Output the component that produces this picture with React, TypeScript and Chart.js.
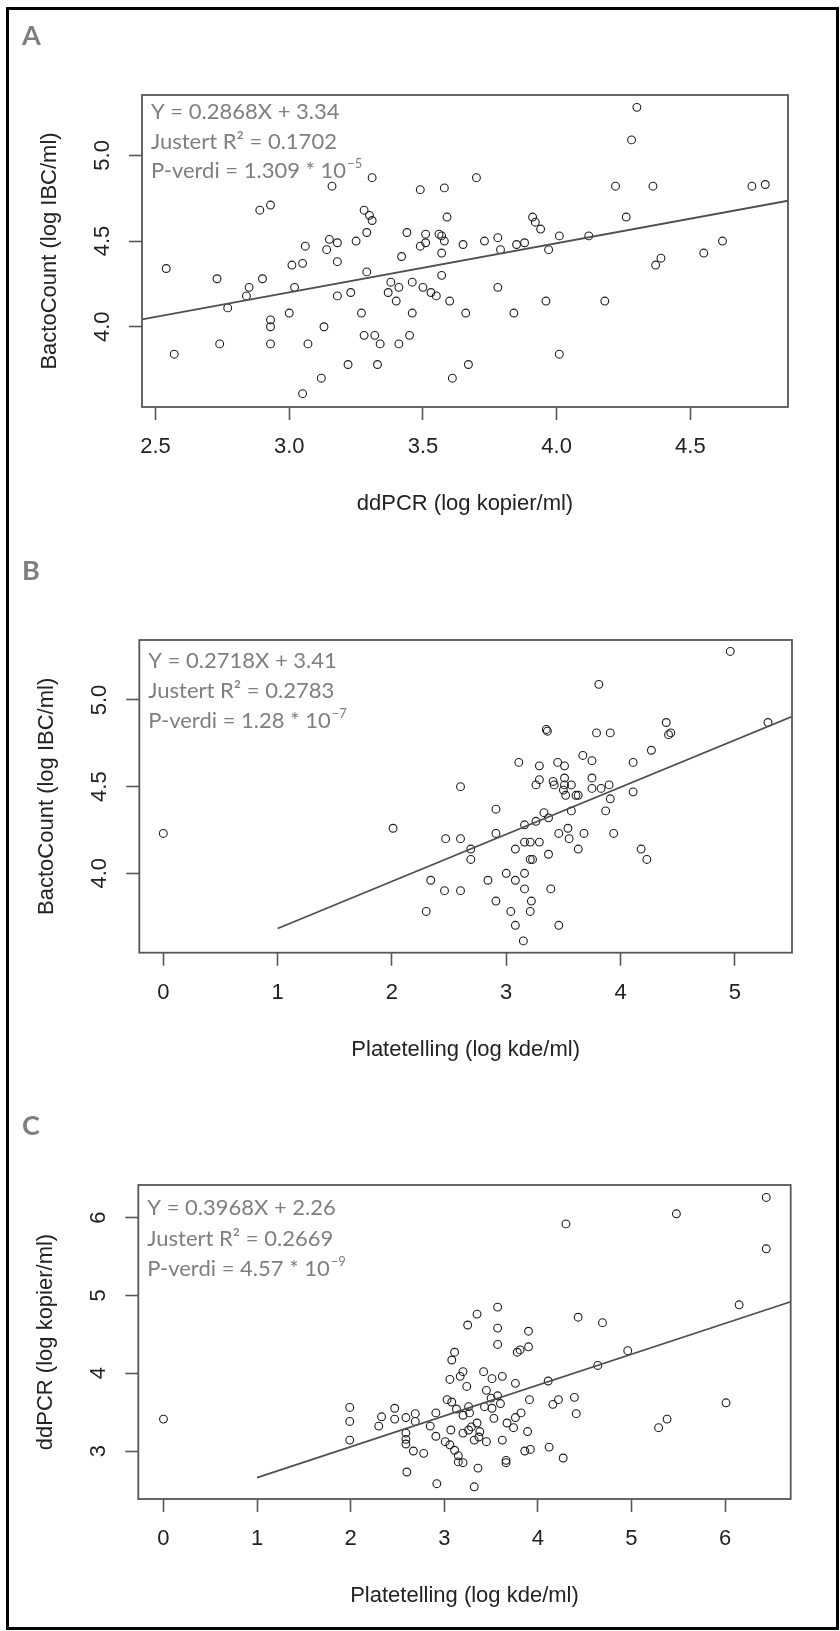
import React, { useEffect, useRef } from "react";
import { Chart, registerables } from "chart.js";

Chart.register(...registerables);

// ---------------- Panel A: ddPCR vs BactoCount ----------------
const ddpcrA = [
  2.54, 2.57, 2.73, 2.74, 2.77, 2.84, 2.85, 2.89, 2.93, 2.90,
  2.93, 2.93, 2.93, 3.00, 3.01, 3.05, 3.06, 3.02, 3.05, 3.07,
  3.12, 3.13, 3.14, 3.15, 3.18, 3.16, 3.18, 3.18, 3.22, 3.23,
  3.25, 3.27, 3.28, 3.30, 3.31, 3.29, 3.29, 3.31, 3.28, 3.32,
  3.34, 3.33, 3.37, 3.38, 3.40, 3.41, 3.41, 3.42, 3.44, 3.45,
  3.46, 3.46, 3.49, 3.49, 3.50, 3.51, 3.51, 3.53, 3.55, 3.56,
  3.57, 3.58, 3.59, 3.57, 3.58, 3.57, 3.60, 3.61, 3.65, 3.66,
  3.67, 3.70, 3.73, 3.78, 3.79, 3.78, 3.84, 3.85, 3.88, 3.91,
  3.92, 3.94, 3.96, 3.97, 4.01, 4.01, 4.12, 4.18, 4.22, 4.26,
  4.28, 4.30, 4.36, 4.37, 4.39, 4.55, 4.62, 4.73, 4.78,
];
const bactoA = [
  4.34, 3.84, 4.28, 3.90, 4.11, 4.18, 4.23, 4.68, 4.71, 4.28,
  4.04, 4.00, 3.90, 4.08, 4.36, 4.37, 4.47, 4.23, 3.61, 3.90,
  3.70, 4.00, 4.45, 4.51, 4.49, 4.82, 4.38, 4.18, 3.78, 4.20,
  4.50, 4.08, 4.68, 4.65, 4.62, 4.55, 4.32, 4.87, 3.95, 3.95,
  3.90, 3.78, 4.20, 4.26, 4.15, 4.23, 3.90, 4.41, 4.55, 3.95,
  4.26, 4.08, 4.80, 4.47, 4.23, 4.54, 4.49, 4.20, 4.18, 4.54,
  4.53, 4.81, 4.64, 4.43, 4.50, 4.30, 4.15, 3.70, 4.48, 4.08,
  3.78, 4.87, 4.50, 4.52, 4.45, 4.23, 4.08, 4.48, 4.49, 4.64,
  4.61, 4.57, 4.15, 4.45, 4.53, 3.84, 4.53, 4.15, 4.82, 4.64,
  5.09, 5.28, 4.82, 4.36, 4.40, 4.43, 4.50, 4.82, 4.83,
];

// ---------------- Panel B: Platetelling vs BactoCount ----------------
const plateB = [
  0.00, 2.01, 2.60, 2.47, 2.60, 2.69, 2.69, 2.34, 2.46, 2.60,
  2.84, 2.30, 4.96, 3.81, 3.35, 3.36, 3.79, 3.91, 4.40, 4.42,
  4.44, 5.29, 4.27, 4.11, 3.11, 3.29, 3.45, 3.51, 3.67, 3.75,
  3.29, 3.26, 3.41, 3.42, 3.51, 3.51, 3.57, 3.52, 3.50, 3.61,
  3.63, 3.75, 3.75, 3.83, 3.90, 3.91, 4.11, 3.87, 3.57, 2.91,
  3.33, 3.37, 3.16, 3.26, 2.91, 3.46, 3.54, 3.55, 3.68, 3.94,
  3.08, 3.16, 3.21, 3.29, 3.63, 3.37, 3.21, 3.23, 4.18, 4.23,
  3.00, 3.08, 3.16, 3.16, 3.39, 2.91, 3.22, 3.04, 3.21, 3.08,
  3.46, 3.15,
];
const bactoB = [
  4.23, 4.26, 4.50, 4.20, 4.20, 4.14, 4.08, 3.96, 3.90, 3.90,
  3.96, 3.78, 5.28, 5.09, 4.83, 4.82, 4.81, 4.81, 4.87, 4.80,
  4.81, 4.87, 4.71, 4.64, 4.64, 4.62, 4.64, 4.62, 4.68, 4.65,
  4.54, 4.51, 4.53, 4.51, 4.55, 4.51, 4.51, 4.45, 4.48, 4.45,
  4.45, 4.55, 4.49, 4.49, 4.51, 4.43, 4.47, 4.36, 4.36, 4.37,
  4.35, 4.32, 4.28, 4.30, 4.23, 4.23, 4.26, 4.20, 4.23, 4.23,
  4.14, 4.18, 4.18, 4.18, 4.14, 4.11, 4.08, 4.08, 4.14, 4.08,
  4.00, 3.96, 4.00, 3.91, 3.91, 3.84, 3.84, 3.78, 3.78, 3.70,
  3.70, 3.61,
];

// ---------------- Panel C: Platetelling vs ddPCR ----------------
const plateC = [
  0.00, 1.99, 1.99, 1.99, 2.30, 2.33, 2.47, 2.47, 2.59, 2.59,
  2.59, 2.59, 2.67, 2.78, 2.69, 2.69, 2.85, 2.91, 2.91, 3.01,
  3.06, 3.07, 3.11, 3.15, 3.15, 3.20, 3.06, 3.08, 3.11, 3.17,
  3.20, 3.24, 3.25, 3.35, 3.03, 3.08, 3.13, 3.20, 3.26, 3.27,
  3.42, 3.45, 3.43, 3.20, 3.26, 3.29, 3.35, 3.38, 3.45, 3.36,
  2.60, 2.92, 3.32, 3.37, 3.62, 3.66, 3.66, 3.86, 3.92, 4.12,
  4.27, 3.32, 6.44, 5.48, 4.30, 6.44, 6.15, 3.57, 3.57, 3.57,
  3.90, 3.78, 3.81, 3.90, 4.43, 4.69, 4.96, 4.64, 4.11, 3.51,
  3.62, 3.76, 3.50, 3.57, 3.60, 3.51, 3.91, 4.16, 4.22, 4.39,
  4.41, 3.82, 3.76, 3.67, 3.74, 3.53, 3.89, 5.29, 5.38, 6.01,
];
const ddpcrC = [
  3.41, 3.56, 3.38, 3.14, 3.32, 3.44, 3.55, 3.41, 3.43, 3.23,
  3.15, 3.09, 3.00, 2.97, 3.48, 3.38, 3.32, 3.49, 3.19, 3.12,
  3.08, 3.27, 3.01, 2.94, 2.86, 2.85, 3.92, 4.17, 4.27, 3.96,
  4.02, 3.83, 4.62, 4.76, 3.66, 3.63, 3.54, 3.46, 3.57, 3.49,
  4.02, 3.78, 3.57, 3.23, 3.27, 3.31, 3.36, 3.25, 3.12, 2.78,
  2.73, 2.58, 2.54, 3.18, 3.14, 2.88, 2.85, 3.00, 3.02, 3.05,
  2.91, 3.14, 6.26, 6.05, 5.92, 5.60, 4.88, 4.85, 4.58, 4.37,
  4.54, 4.27, 4.30, 4.34, 4.72, 4.65, 4.29, 4.10, 3.90, 3.93,
  3.96, 3.87, 3.68, 3.71, 3.61, 3.55, 3.66, 3.60, 3.66, 3.69,
  3.48, 3.49, 3.43, 3.36, 3.30, 3.42, 3.25, 3.30, 3.41, 3.62,
];

// ---------------- Ticks ----------------
const xTicksA = [2.5, 3.0, 3.5, 4.0, 4.5];
const xTickLabelsA = ["2.5", "3.0", "3.5", "4.0", "4.5"];
const yTicksA = [4.0, 4.5, 5.0];
const yTickLabelsA = ["4.0", "4.5", "5.0"];

const xTicksB = [0, 1, 2, 3, 4, 5];
const xTickLabelsB = ["0", "1", "2", "3", "4", "5"];
const yTicksB = [4.0, 4.5, 5.0];
const yTickLabelsB = ["4.0", "4.5", "5.0"];

const xTicksC = [0, 1, 2, 3, 4, 5, 6];
const xTickLabelsC = ["0", "1", "2", "3", "4", "5", "6"];
const yTicksC = [3, 4, 5, 6];
const yTickLabelsC = ["3", "4", "5", "6"];

// ---------------- Regression fits (as printed) ----------------
const fitA = [0.2868, 3.34];
const fitB = [0.2718, 3.41];
const fitC = [0.3968, 2.26];

const statsA = ["Y = 0.2868X + 3.34", "Justert R\u00B2 = 0.1702", "P-verdi = 1.309 * 10"];
const expA = "\u22125";
const statsB = ["Y = 0.2718X + 3.41", "Justert R\u00B2 = 0.2783", "P-verdi = 1.28 * 10"];
const expB = "\u22127";
const statsC = ["Y = 0.3968X + 2.26", "Justert R\u00B2 = 0.2669", "P-verdi = 4.57 * 10"];
const expC = "\u22129";

// ---------------- Styling ----------------
const AXIS_FONT = "'Liberation Sans', Arial, sans-serif";
const STAT_FONT = "Lato, 'Noto Sans', sans-serif";
const TICK_COLOR = "#222";
const FRAME_COLOR = "#575757";
const POINT_COLOR = "#1e1e1e";
const STAT_COLOR = "#7f7f7f";
const W = 840;

type PanelCfg = {
  letter: string;
  letterY: number;
  top: number;
  height: number;
  area: { left: number; right: number; top: number; bottom: number };
  xRange: number[];
  yRange: number[];
  xTicks: number[];
  xTickLabels: string[];
  yTicks: number[];
  yTickLabels: string[];
  xTitle: string;
  yTitle: string;
  xs: number[];
  ys: number[];
  fit: number[];
  lineStart: number | null;
  stats: string[];
  exp: string;
  statOffsets: number[];
};

const panels: PanelCfg[] = [
  {
    letter: "A", letterY: 44.5, top: 0, height: 545,
    area: { left: 142, right: 788, top: 95, bottom: 407 },
    xRange: [2.4495, 4.865], yRange: [3.532, 5.352],
    xTicks: xTicksA, xTickLabels: xTickLabelsA, yTicks: yTicksA, yTickLabels: yTickLabelsA,
    xTitle: "ddPCR (log kopier/ml)", yTitle: "BactoCount (log IBC/ml)",
    xs: ddpcrA, ys: bactoA, fit: fitA, lineStart: null,
    stats: statsA, exp: expA, statOffsets: [16.7, 46.7, 75.7],
  },
  {
    letter: "B", letterY: 34.5, top: 545, height: 545,
    area: { left: 139.3, right: 792, top: 95, bottom: 407.7 },
    xRange: [-0.21, 5.5], yRange: [3.542, 5.346],
    xTicks: xTicksB, xTickLabels: xTickLabelsB, yTicks: yTicksB, yTickLabels: yTickLabelsB,
    xTitle: "Platetelling (log kde/ml)", yTitle: "BactoCount (log IBC/ml)",
    xs: plateB, ys: bactoB, fit: fitB, lineStart: 1,
    stats: statsB, exp: expB, statOffsets: [21, 51, 80.7],
  },
  {
    letter: "C", letterY: 45, top: 1090, height: 541,
    area: { left: 138.3, right: 790.7, top: 95, bottom: 409 },
    xRange: [-0.269, 6.701], yRange: [2.383, 6.42],
    xTicks: xTicksC, xTickLabels: xTickLabelsC, yTicks: yTicksC, yTickLabels: yTickLabelsC,
    xTitle: "Platetelling (log kde/ml)", yTitle: "ddPCR (log kopier/ml)",
    xs: plateC, ys: ddpcrC, fit: fitC, lineStart: 1,
    stats: statsC, exp: expC, statOffsets: [23.3, 54, 84],
  },
];

function decorPlugin(cfg: PanelCfg) {
  return {
    id: "decor" + cfg.letter,
    afterDraw(chart: any) {
      const { ctx, chartArea: a } = chart;
      ctx.save();
      // plot frame
      ctx.strokeStyle = FRAME_COLOR;
      ctx.lineWidth = 1.8;
      ctx.strokeRect(a.left, a.top, a.right - a.left, a.bottom - a.top);

      // y tick labels (parallel to the axis)
      const ys = chart.scales.y;
      ctx.font = `22px ${AXIS_FONT}`;
      ctx.fillStyle = TICK_COLOR;
      ctx.textAlign = "center";
      ctx.textBaseline = "middle";
      cfg.yTicks.forEach((v, i) => {
        const py = ys.getPixelForValue(v);
        ctx.save();
        ctx.translate(a.left - 39, py);
        ctx.rotate(-Math.PI / 2);
        ctx.fillText(cfg.yTickLabels[i], 0, 0);
        ctx.restore();
      });

      // regression statistics
      ctx.font = `22px ${STAT_FONT}`;
      ctx.fillStyle = STAT_COLOR;
      ctx.textAlign = "left";
      ctx.textBaseline = "middle";
      const tx = a.left + 9;
      cfg.stats.forEach((s, i) => ctx.fillText(s, tx, a.top + cfg.statOffsets[i]));
      const last = cfg.stats[cfg.stats.length - 1];
      const w = ctx.measureText(last).width;
      ctx.font = `13px ${STAT_FONT}`;
      ctx.fillText(cfg.exp, tx + w + 1, a.top + cfg.statOffsets[2] - 7);

      // panel letter
      ctx.font = `bold 27px ${STAT_FONT}`;
      ctx.fillStyle = STAT_COLOR;
      ctx.textBaseline = "alphabetic";
      ctx.fillText(cfg.letter, 22, cfg.letterY);
      ctx.restore();
    },
  };
}

function Panel({ cfg }: { cfg: PanelCfg }) {
  const ref = useRef<HTMLCanvasElement>(null);
  useEffect(() => {
    const canvas = ref.current;
    if (!canvas) return;
    const pts = cfg.xs.map((x, i) => ({ x, y: cfg.ys[i] }));
    const x0 = cfg.lineStart === null ? cfg.xRange[0] : cfg.lineStart;
    const x1 = cfg.xRange[1];
    const line = [x0, x1].map((x) => ({ x, y: cfg.fit[0] * x + cfg.fit[1] }));
    const a = cfg.area;
    const H = cfg.height;
    const xTitleMid = a.bottom + 97;
    const yTitleMid = a.left - 92;
    const gridOpts = {
      display: true,
      drawOnChartArea: false,
      drawTicks: true,
      tickLength: 13,
      tickColor: FRAME_COLOR,
      tickWidth: 1.6,
    };
    const chart = new Chart(canvas, {
      type: "scatter",
      data: {
        datasets: [
          {
            label: "fit",
            data: line,
            showLine: true,
            borderColor: "#4f4f4f",
            borderWidth: 1.8,
            pointRadius: 0,
            pointHoverRadius: 0,
            fill: false,
          } as any,
          {
            label: "obs",
            data: pts,
            showLine: false,
            pointRadius: 3.9,
            pointHoverRadius: 3.9,
            pointBorderWidth: 1.1,
            borderColor: POINT_COLOR,
            pointBorderColor: POINT_COLOR,
            backgroundColor: "rgba(0,0,0,0)",
            pointBackgroundColor: "rgba(0,0,0,0)",
          } as any,
        ],
      },
      options: {
        animation: false,
        responsive: false,
        maintainAspectRatio: false,
        devicePixelRatio: 1,
        events: [],
        layout: { padding: { top: a.top, right: W - a.right, left: 0, bottom: 0 } },
        plugins: { legend: { display: false }, tooltip: { enabled: false } },
        scales: {
          x: {
            type: "linear",
            position: "bottom",
            min: cfg.xRange[0],
            max: cfg.xRange[1],
            afterBuildTicks: (s: any) => {
              s.ticks = cfg.xTicks.map((v) => ({ value: v }));
            },
            afterFit: (s: any) => {
              s.height = H - a.bottom;
            },
            grid: gridOpts,
            border: { display: false },
            ticks: {
              autoSkip: false,
              maxRotation: 0,
              minRotation: 0,
              padding: 14,
              color: TICK_COLOR,
              font: { family: AXIS_FONT, size: 22 },
              callback: (_v: any, i: number) => cfg.xTickLabels[i],
            },
            title: {
              display: true,
              text: cfg.xTitle,
              color: TICK_COLOR,
              font: { family: AXIS_FONT, size: 22 },
              padding: { top: 0, bottom: H - 13.2 - xTitleMid },
            },
          },
          y: {
            type: "linear",
            position: "left",
            min: cfg.yRange[0],
            max: cfg.yRange[1],
            afterBuildTicks: (s: any) => {
              s.ticks = cfg.yTicks.map((v) => ({ value: v }));
            },
            afterFit: (s: any) => {
              s.width = a.left;
            },
            grid: gridOpts,
            border: { display: false },
            ticks: { display: false },
            title: {
              display: true,
              text: cfg.yTitle,
              color: TICK_COLOR,
              font: { family: AXIS_FONT, size: 22 },
              padding: { top: yTitleMid - 13.2, bottom: 0 },
            },
          },
        } as any,
      },
      plugins: [decorPlugin(cfg)],
    });
    return () => chart.destroy();
  }, [cfg]);

  return (
    <canvas
      ref={ref}
      width={W}
      height={cfg.height}
      style={{ position: "absolute", left: 0, top: cfg.top, width: W, height: cfg.height, display: "block" }}
    />
  );
}

export default function App() {
  return (
    <div style={{ position: "absolute", left: 0, top: 0, width: W, height: 1631, background: "#fff", overflow: "hidden" }}>
      <div
        style={{
          position: "absolute",
          left: 6,
          top: 7,
          width: 833,
          height: 1623,
          border: "3px solid #000",
          boxSizing: "border-box",
        }}
      />
      {panels.map((p) => (
        <Panel key={p.letter} cfg={p} />
      ))}
    </div>
  );
}
